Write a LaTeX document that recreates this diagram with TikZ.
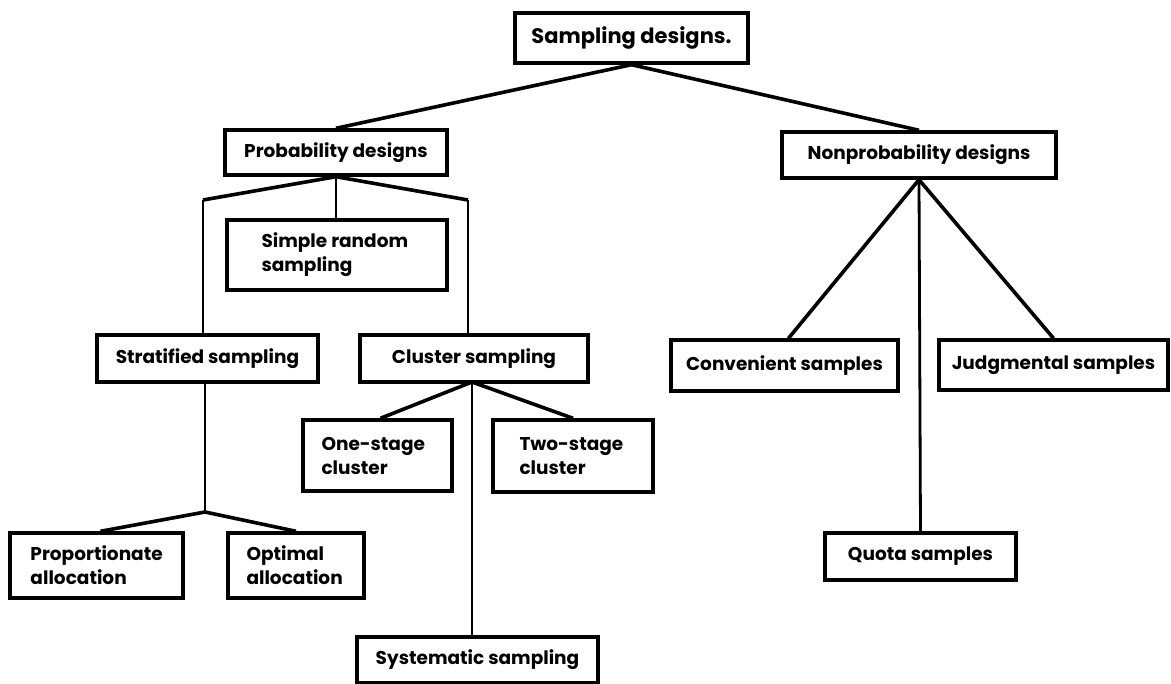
\documentclass[tikz,border=0pt]{standalone}
\usepackage{fontspec}
\setmainfont{Poppins}
\usetikzlibrary{calc}
\begin{document}
\begin{tikzpicture}[x=1pt,y=-1pt,
  box/.style={draw, line width=3.4pt, rectangle, inner sep=0pt,
    font=\bfseries\fontsize{18.5}{23}\selectfont},
  label/.style={inner sep=0pt, align=left,
    font=\bfseries\fontsize{18.5}{24}\selectfont},
  link/.style={line width=3.6pt, line join=round},
  stem/.style={line width=2.8pt}]
\useasboundingbox (0,0) rectangle (1171,684);

% boxes
\node[box, minimum width=233pt, minimum height=50pt,
      font=\bfseries\fontsize{21}{25}\selectfont] (samp) at (631.5,38) {Sampling designs.};
\node[box, minimum width=222pt, minimum height=45pt] (prob)  at (336,152.5) {Probability designs};
\node[box, minimum width=274pt, minimum height=46pt] (nonp)  at (919,155)   {Nonprobability designs};
\node[box, minimum width=220pt, minimum height=70pt] (simple) at (337,255)  {};
\node[label, anchor=west] (simplet) at ($(simple.west)+(36,0)$) {Simple random\\sampling};
\node[box, minimum width=221pt, minimum height=47pt] (strat) at (207.5,358.5) {Stratified sampling};
\node[box, minimum width=228pt, minimum height=47pt] (clus)  at (474,358.5) {Cluster sampling};
\node[box, minimum width=149pt, minimum height=71pt] (one)   at (377.5,455.5) {};
\node[label, anchor=west] (onet) at ($(one.west)+(20,0)$) {One-stage\\cluster};
\node[box, minimum width=160pt, minimum height=72pt] (two)   at (573,456) {};
\node[label, anchor=west] (twot) at ($(two.west)+(28,0)$) {Two-stage\\cluster};
\node[box, minimum width=173pt, minimum height=65pt] (prop)  at (96.5,565.5) {};
\node[label, anchor=west] (propt) at ($(prop.west)+(22,0)$) {Proportionate\\allocation};
\node[box, minimum width=136pt, minimum height=65pt] (opt)   at (296,565.5) {};
\node[label, anchor=west] (optt) at ($(opt.west)+(20,0)$) {Optimal\\allocation};
\node[box, minimum width=241pt, minimum height=46pt] (syst)  at (477.5,660) {Systematic sampling};
\node[box, minimum width=227pt, minimum height=51pt] (conv)  at (784.5,365.5) {Convenient samples};
\node[box, minimum width=229pt, minimum height=50pt] (judg)  at (1053.5,365) {Judgmental samples};
\node[box, minimum width=191pt, minimum height=47pt] (quota) at (920.5,556.5) {Quota samples};

% branch points
\coordinate (kl) at (203,200);
\coordinate (kr) at (468,200);
\coordinate (js) at (205,512);
\coordinate (jc) at (472,382);

% connectors
\draw[link] (samp.south) -- (prob.north);
\draw[link] (samp.south) -- (nonp.north);

\draw[link] (prob.south) -- (kl);
\draw[stem] (kl) -- (kl |- strat.north);
\draw[link] (prob.south) -- (kr);
\draw[stem] (kr) -- (kr |- clus.north);
\draw[stem] (prob.south) -- (prob.south |- simple.north);

\draw[stem] (js |- strat.south) -- (js);
\draw[link] (js) -- ($(prop.north)+(4,0)$);
\draw[link] (js) -- (opt.north);

\draw[link] (jc) -- ($(one.north)+(3,0)$);
\draw[link] (jc) -- (two.north);
\draw[stem] (jc) -- (jc |- syst.north);

\draw[link] (nonp.south) -- ($(conv.north)+(4,0)$);
\draw[link] (nonp.south) -- (judg.north);
\draw[stem] (nonp.south) -- (quota.north);
\end{tikzpicture}
\end{document}
